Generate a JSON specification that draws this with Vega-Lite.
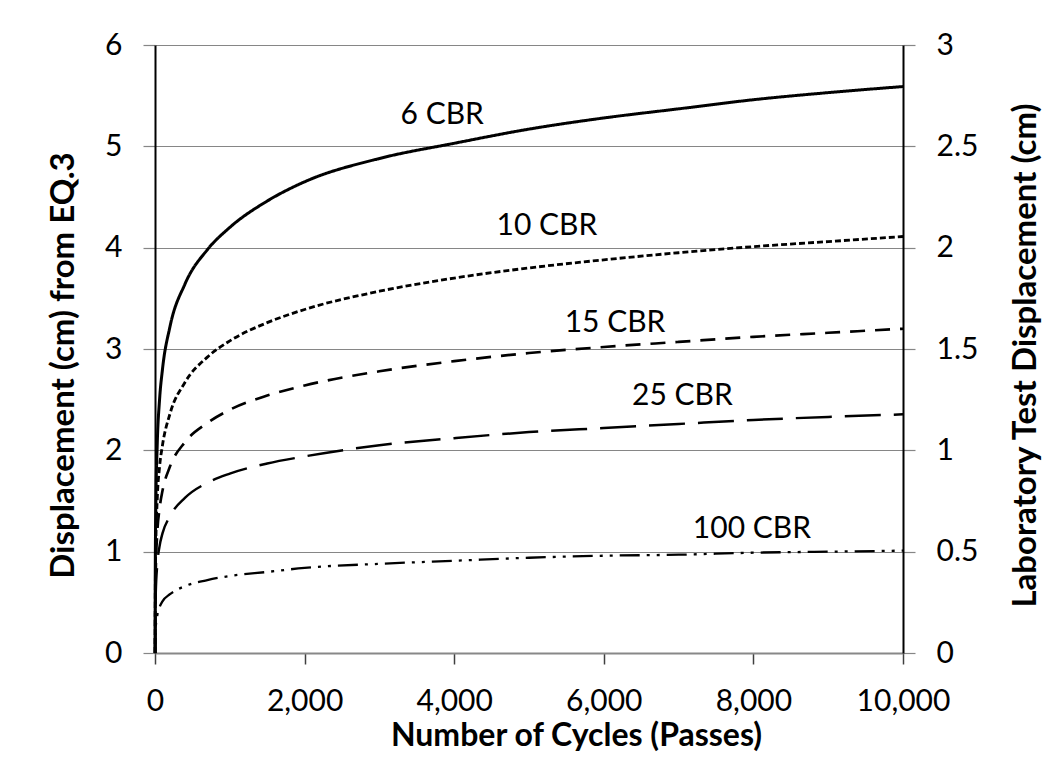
{
  "$schema": "https://vega.github.io/schema/vega-lite/v6.json",
  "width": 748,
  "height": 608,
  "autosize": "none",
  "padding": {"left": 155, "top": 45, "right": 150, "bottom": 118},
  "background": "white",
  "config": {
    "font": "Lato",
    "view": {"stroke": null},
    "axis": {"labelFont": "Lato", "titleFont": "Lato", "labelColor": "black", "titleColor": "black"},
    "text": {"font": "Lato"}
  },
  "datasets": {
    "curves": [
      {"series": "6 CBR", "cycles": 1, "disp": 0},
      {"series": "6 CBR", "cycles": 3, "disp": 0.67},
      {"series": "6 CBR", "cycles": 10, "disp": 1.40},
      {"series": "6 CBR", "cycles": 30, "disp": 2.06},
      {"series": "6 CBR", "cycles": 60, "disp": 2.49},
      {"series": "6 CBR", "cycles": 100, "disp": 2.80},
      {"series": "6 CBR", "cycles": 200, "disp": 3.22},
      {"series": "6 CBR", "cycles": 400, "disp": 3.64},
      {"series": "6 CBR", "cycles": 700, "disp": 3.98},
      {"series": "6 CBR", "cycles": 1000, "disp": 4.20},
      {"series": "6 CBR", "cycles": 1500, "disp": 4.46},
      {"series": "6 CBR", "cycles": 2000, "disp": 4.65},
      {"series": "6 CBR", "cycles": 3000, "disp": 4.88},
      {"series": "6 CBR", "cycles": 4000, "disp": 5.03},
      {"series": "6 CBR", "cycles": 5000, "disp": 5.17},
      {"series": "6 CBR", "cycles": 6000, "disp": 5.28},
      {"series": "6 CBR", "cycles": 7000, "disp": 5.37},
      {"series": "6 CBR", "cycles": 8000, "disp": 5.46},
      {"series": "6 CBR", "cycles": 9000, "disp": 5.53},
      {"series": "6 CBR", "cycles": 10000, "disp": 5.59},
      {"series": "10 CBR", "cycles": 1, "disp": 0},
      {"series": "10 CBR", "cycles": 3, "disp": 0.49},
      {"series": "10 CBR", "cycles": 10, "disp": 1.03},
      {"series": "10 CBR", "cycles": 30, "disp": 1.52},
      {"series": "10 CBR", "cycles": 60, "disp": 1.83},
      {"series": "10 CBR", "cycles": 100, "disp": 2.05},
      {"series": "10 CBR", "cycles": 200, "disp": 2.36},
      {"series": "10 CBR", "cycles": 400, "disp": 2.67},
      {"series": "10 CBR", "cycles": 700, "disp": 2.92},
      {"series": "10 CBR", "cycles": 1000, "disp": 3.08},
      {"series": "10 CBR", "cycles": 1500, "disp": 3.26},
      {"series": "10 CBR", "cycles": 2000, "disp": 3.39},
      {"series": "10 CBR", "cycles": 3000, "disp": 3.57},
      {"series": "10 CBR", "cycles": 4000, "disp": 3.70},
      {"series": "10 CBR", "cycles": 5000, "disp": 3.80},
      {"series": "10 CBR", "cycles": 6000, "disp": 3.88},
      {"series": "10 CBR", "cycles": 7000, "disp": 3.95},
      {"series": "10 CBR", "cycles": 8000, "disp": 4.01},
      {"series": "10 CBR", "cycles": 9000, "disp": 4.06},
      {"series": "10 CBR", "cycles": 10000, "disp": 4.11},
      {"series": "15 CBR", "cycles": 1, "disp": 0},
      {"series": "15 CBR", "cycles": 3, "disp": 0.38},
      {"series": "15 CBR", "cycles": 10, "disp": 0.80},
      {"series": "15 CBR", "cycles": 30, "disp": 1.18},
      {"series": "15 CBR", "cycles": 60, "disp": 1.42},
      {"series": "15 CBR", "cycles": 100, "disp": 1.60},
      {"series": "15 CBR", "cycles": 200, "disp": 1.84},
      {"series": "15 CBR", "cycles": 400, "disp": 2.08},
      {"series": "15 CBR", "cycles": 700, "disp": 2.27},
      {"series": "15 CBR", "cycles": 1000, "disp": 2.40},
      {"series": "15 CBR", "cycles": 1500, "disp": 2.54},
      {"series": "15 CBR", "cycles": 2000, "disp": 2.64},
      {"series": "15 CBR", "cycles": 3000, "disp": 2.78},
      {"series": "15 CBR", "cycles": 4000, "disp": 2.88},
      {"series": "15 CBR", "cycles": 5000, "disp": 2.96},
      {"series": "15 CBR", "cycles": 6000, "disp": 3.02},
      {"series": "15 CBR", "cycles": 7000, "disp": 3.07},
      {"series": "15 CBR", "cycles": 8000, "disp": 3.12},
      {"series": "15 CBR", "cycles": 9000, "disp": 3.16},
      {"series": "15 CBR", "cycles": 10000, "disp": 3.20},
      {"series": "25 CBR", "cycles": 1, "disp": 0},
      {"series": "25 CBR", "cycles": 3, "disp": 0.28},
      {"series": "25 CBR", "cycles": 10, "disp": 0.59},
      {"series": "25 CBR", "cycles": 30, "disp": 0.87},
      {"series": "25 CBR", "cycles": 60, "disp": 1.05},
      {"series": "25 CBR", "cycles": 100, "disp": 1.18},
      {"series": "25 CBR", "cycles": 200, "disp": 1.35},
      {"series": "25 CBR", "cycles": 400, "disp": 1.53},
      {"series": "25 CBR", "cycles": 700, "disp": 1.68},
      {"series": "25 CBR", "cycles": 1000, "disp": 1.77},
      {"series": "25 CBR", "cycles": 1500, "disp": 1.87},
      {"series": "25 CBR", "cycles": 2000, "disp": 1.94},
      {"series": "25 CBR", "cycles": 3000, "disp": 2.05},
      {"series": "25 CBR", "cycles": 4000, "disp": 2.12},
      {"series": "25 CBR", "cycles": 5000, "disp": 2.18},
      {"series": "25 CBR", "cycles": 6000, "disp": 2.22},
      {"series": "25 CBR", "cycles": 7000, "disp": 2.26},
      {"series": "25 CBR", "cycles": 8000, "disp": 2.30},
      {"series": "25 CBR", "cycles": 9000, "disp": 2.33},
      {"series": "25 CBR", "cycles": 10000, "disp": 2.355},
      {"series": "100 CBR", "cycles": 1, "disp": 0},
      {"series": "100 CBR", "cycles": 3, "disp": 0.12},
      {"series": "100 CBR", "cycles": 10, "disp": 0.25},
      {"series": "100 CBR", "cycles": 30, "disp": 0.37},
      {"series": "100 CBR", "cycles": 60, "disp": 0.45},
      {"series": "100 CBR", "cycles": 100, "disp": 0.51},
      {"series": "100 CBR", "cycles": 200, "disp": 0.58},
      {"series": "100 CBR", "cycles": 400, "disp": 0.66},
      {"series": "100 CBR", "cycles": 700, "disp": 0.72},
      {"series": "100 CBR", "cycles": 1000, "disp": 0.76},
      {"series": "100 CBR", "cycles": 1500, "disp": 0.80},
      {"series": "100 CBR", "cycles": 2000, "disp": 0.84},
      {"series": "100 CBR", "cycles": 3000, "disp": 0.88},
      {"series": "100 CBR", "cycles": 4000, "disp": 0.91},
      {"series": "100 CBR", "cycles": 5000, "disp": 0.94},
      {"series": "100 CBR", "cycles": 6000, "disp": 0.96},
      {"series": "100 CBR", "cycles": 7000, "disp": 0.97},
      {"series": "100 CBR", "cycles": 8000, "disp": 0.99},
      {"series": "100 CBR", "cycles": 9000, "disp": 1.00},
      {"series": "100 CBR", "cycles": 10000, "disp": 1.01}
    ],
    "labels": [
      {"label": "6 CBR", "cycles": 3840, "disp": 5.31},
      {"label": "10 CBR", "cycles": 5240, "disp": 4.21},
      {"label": "15 CBR", "cycles": 6150, "disp": 3.26},
      {"label": "25 CBR", "cycles": 7050, "disp": 2.54},
      {"label": "100 CBR", "cycles": 7980, "disp": 1.22}
    ]
  },
  "layer": [
    {
      "data": {"name": "curves"},
      "mark": {"type": "line", "interpolate": "monotone", "color": "black", "strokeCap": "butt"},
      "encoding": {
        "x": {
          "field": "cycles", "type": "quantitative",
          "scale": {"domain": [0, 10000], "nice": false},
          "axis": {
            "values": [0, 2000, 4000, 6000, 8000, 10000], "format": ",d",
            "grid": false, "labelFontSize": 30, "labelPadding": 22, "labelFlush": false,
            "tickSize": 11, "tickColor": "#404040", "tickWidth": 1.5,
            "domainColor": "#888888", "domainWidth": 2,
            "title": "Number of Cycles (Passes)", "titleFontSize": 32, "titleFontWeight": "bold",
            "titleX": 421, "titleY": 92, "titleBaseline": "alphabetic"
          }
        },
        "y": {
          "field": "disp", "type": "quantitative",
          "scale": {"domain": [0, 6], "nice": false},
          "axis": {
            "values": [0, 1, 2, 3, 4, 5, 6], "grid": true, "gridColor": "#868686", "gridWidth": 1.2,
            "labelFontSize": 30, "labelPadding": 21, "labelFlush": false,
            "tickSize": 12, "tickColor": "#868686", "tickWidth": 1.2,
            "domainColor": "black", "domainWidth": 2,
            "title": "Displacement (cm) from EQ.3", "titleFontSize": 33, "titleFontWeight": "bold",
            "titleAngle": -90, "titleX": -82, "titleY": 320, "titleBaseline": "alphabetic"
          }
        },
        "strokeDash": {
          "field": "series", "type": "nominal",
          "scale": {"domain": ["6 CBR", "10 CBR", "15 CBR", "25 CBR", "100 CBR"],
                    "range": [[1, 0], [6, 3], [15, 10], [36, 13], [20, 7, 3, 7, 3, 7]]},
          "legend": null
        },
        "strokeWidth": {
          "field": "series", "type": "nominal",
          "scale": {"domain": ["6 CBR", "10 CBR", "15 CBR", "25 CBR", "100 CBR"],
                    "range": [3, 2.3, 2.5, 2.5, 2.5]},
          "legend": null
        }
      }
    },
    {
      "data": {"name": "labels"},
      "mark": {"type": "text", "fontSize": 30, "align": "center", "baseline": "middle", "color": "black"},
      "encoding": {
        "x": {"field": "cycles", "type": "quantitative"},
        "y": {"field": "disp", "type": "quantitative", "scale": {"domain": [0, 6], "nice": false}, "axis": null},
        "text": {"field": "label"}
      }
    },
    {
      "data": {"values": [{}]},
      "mark": {"type": "rule", "opacity": 0},
      "encoding": {
        "y": {
          "datum": 0, "type": "quantitative",
          "scale": {"domain": [0, 3], "nice": false},
          "axis": {
            "orient": "right", "values": [0, 0.5, 1, 1.5, 2, 2.5, 3], "format": "~g",
            "grid": false, "labelFontSize": 30, "labelPadding": 21, "labelFlush": false,
            "tickSize": 12, "tickColor": "#868686", "tickWidth": 1.2,
            "domainColor": "black", "domainWidth": 2,
            "title": "Laboratory Test Displacement (cm)", "titleFontSize": 33, "titleFontWeight": "bold",
            "titleAngle": -90, "titleX": 132, "titleY": 310, "titleBaseline": "alphabetic"
          }
        }
      }
    }
  ],
  "resolve": {"scale": {"y": "independent"}}
}
